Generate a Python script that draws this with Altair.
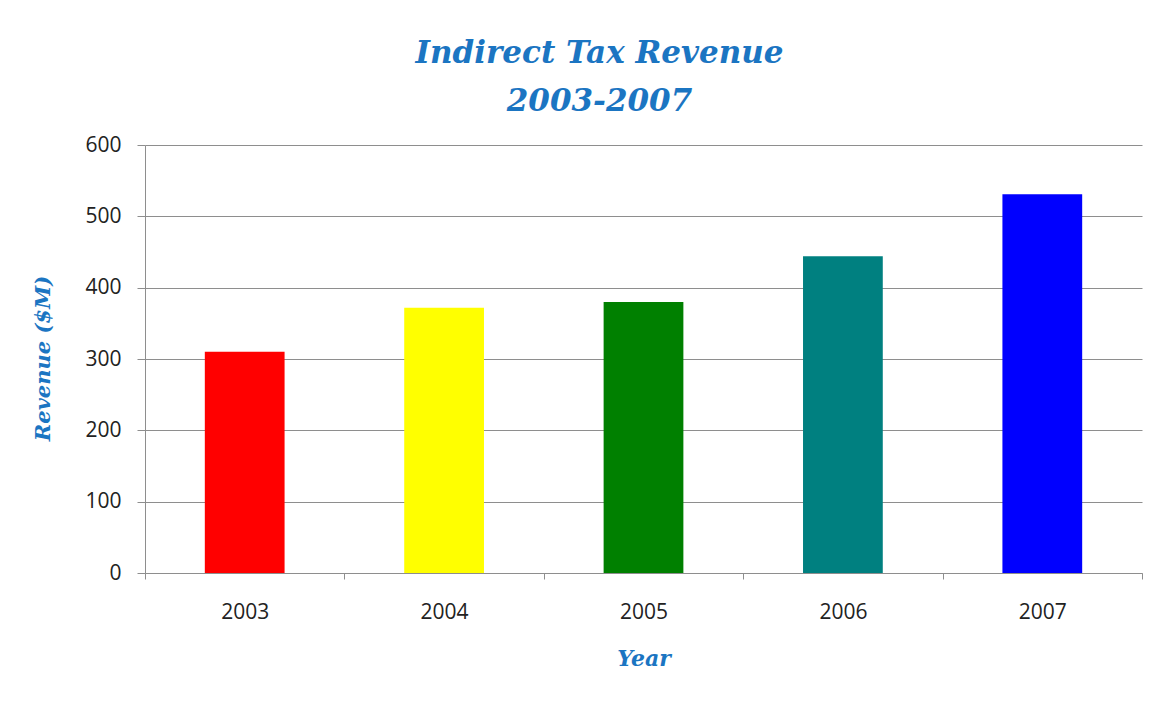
import altair as alt
import pandas as pd

years = ["2003", "2004", "2005", "2006", "2007"]
revenue = [310, 372, 380, 444, 531]
colors = ["#FF0000", "#FFFF00", "#008000", "#008080", "#0000FF"]

df = pd.DataFrame({"Year": years, "Revenue": revenue, "Color": colors})

TITLE_BLUE = "#1B75C2"
GRID = "#8E8E8E"
SERIF = "DejaVu Serif"

chart = alt.Chart(df).mark_bar(width=alt.RelativeBandSize(0.4)).encode(
    x=alt.X("Year:N", sort=years,
            scale=alt.Scale(paddingInner=0, paddingOuter=0),
            axis=alt.Axis(title="Year", labelAngle=0, tickBand="extent",
                          grid=False, domainColor=GRID, tickColor=GRID,
                          tickSize=6, labelPadding=22, labelBaseline="top",
                          labelFont="Open Sans", labelFontSize=21, labelColor="#222222",
                          titleFont=SERIF, titleFontSize=22,
                          titleFontStyle="italic", titleFontWeight="bold",
                          titleColor=TITLE_BLUE, titleY=85, titleBaseline="middle")),
    y=alt.Y("Revenue:Q",
            scale=alt.Scale(domain=[0, 600], nice=False),
            axis=alt.Axis(title="Revenue ($M)", values=[0, 100, 200, 300, 400, 500, 600],
                          grid=True, gridColor=GRID, gridWidth=1,
                          domainColor=GRID, tickColor=GRID, tickSize=8,
                          labelPadding=16, labelFont="Open Sans", labelFontSize=21,
                          labelColor="#222222",
                          titleFont=SERIF, titleFontSize=21,
                          titleFontStyle="italic", titleFontWeight="bold",
                          titleColor=TITLE_BLUE, titleX=-102, titleY=213,
                          titleBaseline="middle", titleAngle=270)),
    color=alt.Color("Color:N", scale=None),
).properties(
    width=997,
    height=428,
    title=alt.TitleParams(
        text=["Indirect Tax Revenue", "2003-2007"],
        font=SERIF, fontSize=31, fontStyle="italic", fontWeight="bold",
        color=TITLE_BLUE, anchor="middle", lineHeight=48, offset=16, dx=-44,
    ),
    autosize=alt.AutoSizeParams(type="none"),
    padding={"left": 137, "top": 137, "right": 17, "bottom": 120},
).configure_view(stroke=None)

chart.save("out.html", embed_options={"renderer": "svg", "actions": False})
